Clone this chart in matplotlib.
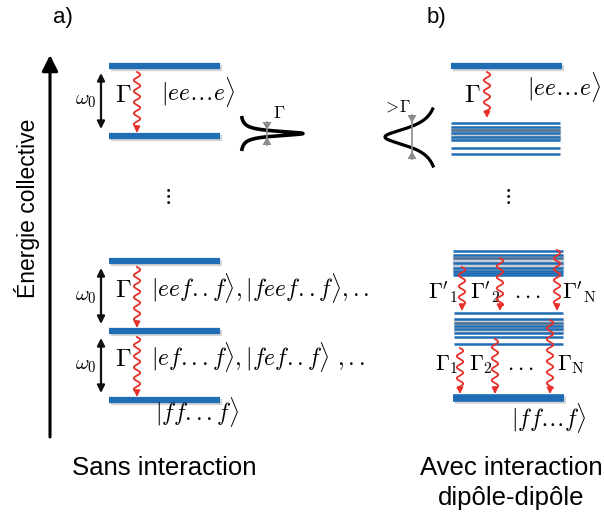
import numpy as np
import matplotlib
matplotlib.use("Agg")
import matplotlib.pyplot as plt

plt.rcParams['mathtext.fontset'] = 'cm'
plt.rcParams['font.family'] = ['Liberation Sans', 'DejaVu Sans']

BLUE = '#1f6db4'
RED = '#e8302a'
GRAY = '#8c8c8c'

# panel a: level heights (pixel rows), transitions and labels
a_levels = [66, 136, 261, 331, 400]
a_x = (109, 220)
a_arrows = [(66, 136), (261, 331), (331, 400)]
a_kets = [r'$|ee\ldots e\rangle$',
          r'$|eef..f\rangle,|feef..f\rangle,..$',
          r'$|ef...f\rangle,|fef..f\rangle\ ,..$']
a_ket_pos = [(161, 92), (151, 288), (151, 357)]
a_ground = r'$|ff...f\rangle$'

# panel b: single levels and bands
b_levels = [66, 398]
b_x = (451, 562)
band1 = [123, 127, 130, 133, 137, 140, 148, 154]
band2 = [251, 255, 258, 263, 268, 271, 273, 275]
band3 = [313, 319, 323, 326, 329, 333, 337, 344]
b_up = [(462, 267, 311), (500, 258, 311), (557, 250, 311)]
b_low = [(460, 348, 394), (495, 339, 394), (550, 320, 394)]
b_up_labels = [r"$\Gamma'_1$", r"$\Gamma'_2$", r'$...$', r"$\Gamma'_{\rm N}$"]
b_up_lx = [443, 485, 527, 579]
b_low_labels = [r'$\Gamma_1$', r'$\Gamma_2$', r'$...$', r'$\Gamma_{\rm N}$']
b_low_lx = [447, 481, 520, 571]

fig = plt.figure(figsize=(6.04, 5.21), dpi=100)
ax = fig.add_axes([0, 0, 1, 1])
ax.set_xlim(0, 604)
ax.set_ylim(521, 0)
ax.axis('off')


def level(x0, x1, y, lw=4.5, color=BLUE):
    ax.plot([x0 + 2, x1 + 2], [y + 2, y + 2], color='#d4d4d4', lw=lw, solid_capstyle='butt', zorder=1)
    ax.plot([x0, x1], [y, y], color=color, lw=lw, solid_capstyle='butt', zorder=2)


def wavy(x0, y0, y1, amp=3.2, wl=11.0):
    yy = np.linspace(y0, y1 - 6, 200)
    xx = x0 + amp * np.sin(2 * np.pi * (yy - y0) / wl)
    ax.plot(xx, yy, color=RED, lw=1.3, zorder=4)
    ax.annotate('', xy=(x0, y1), xytext=(x0, y1 - 7),
                arrowprops=dict(arrowstyle='-|>', color=RED, lw=1.2,
                                mutation_scale=9, shrinkA=0, shrinkB=0), zorder=4)


def double_arrow(x, y0, y1):
    ax.annotate('', xy=(x, y0), xytext=(x, y1),
                arrowprops=dict(arrowstyle='<|-|>', color='#111111', lw=1.6,
                                mutation_scale=11, shrinkA=0, shrinkB=0))


def band(x0, x1, ys):
    ax.fill_between([x0, x1], ys[1], ys[5], color='#c9cdd3', zorder=1)
    for i, y in enumerate(ys):
        c = '#456f99' if i == 2 else BLUE
        ax.plot([x0, x1], [y, y], color=c, lw=1.8, solid_capstyle='butt', zorder=2)


def bowtie(x, ytop, ybot, h=8, w=4.5):
    ax.plot([x, x], [ytop, ybot], color=GRAY, lw=1.2, zorder=5)
    ax.fill([x - w, x + w, x], [ytop, ytop, ytop + h], color=GRAY, zorder=5, lw=0)
    ax.fill([x - w, x + w, x], [ybot, ybot, ybot - h], color=GRAY, zorder=5, lw=0)


# energy axis
ax.annotate('', xy=(50, 55), xytext=(50, 437),
            arrowprops=dict(arrowstyle='-|>', color='black', lw=2.2,
                            mutation_scale=24, shrinkA=0, shrinkB=0))
ax.text(27, 208, 'Énergie collective', rotation=90, ha='center', va='center', fontsize=16.5)

ax.text(63, 18, 'a)', ha='center', va='center', fontsize=16)
ax.text(436, 18, 'b)', ha='center', va='center', fontsize=16)

# panel a
for y in a_levels:
    level(a_x[0], a_x[1], y)
for (y0, y1) in a_arrows:
    double_arrow(101, y0 + 7, y1 - 7)
    ax.text(97, (y0 + y1) / 2, r'$\omega_0$', ha='right', va='center', fontsize=15)
    ax.text(123, (y0 + y1) / 2 - 6, r'$\Gamma$', ha='center', va='center', fontsize=18)
    wavy(137, y0 + 6, y1 - 3)
for s, (x, y) in zip(a_kets, a_ket_pos):
    ax.text(x, y, s, ha='left', va='center', fontsize=17)
ax.text(155, 412, a_ground, ha='left', va='center', fontsize=17)
ax.text(167, 196, r'$\vdots$', ha='center', va='center', fontsize=16)

# narrow line shape
yy = np.linspace(116, 151, 300)
g = 2.8
xx = 240 + 63 * g ** 2 / ((yy - 133.5) ** 2 + g ** 2)
ax.plot(xx, yy, color='black', lw=2.6, zorder=3, solid_capstyle='butt')
bowtie(267, 122, 145)
ax.text(279, 114, r'$\Gamma$', ha='center', va='center', fontsize=13)

ax.text(164, 468, 'Sans interaction', ha='center', va='center', fontsize=18.5)

# panel b
level(b_x[0], b_x[1], b_levels[0])
level(b_x[0] + 2, b_x[1] + 2, b_levels[1], lw=5.5)
band(b_x[0], b_x[1] - 2, band1)
band(b_x[0] + 2, b_x[1] + 1, band2)
band(b_x[0] + 3, b_x[1] + 1, band3)

wavy(487, 72, 118)
ax.text(472, 95, r'$\Gamma$', ha='center', va='center', fontsize=18)
ax.text(527, 87, r'$|ee\ldots e\rangle$', ha='left', va='center', fontsize=17)

yy = np.linspace(109, 166, 300)
g = 11
xx = 440 - 55 * g ** 2 / ((yy - 137) ** 2 + g ** 2)
ax.plot(xx, yy, color='black', lw=2.3, zorder=3)
bowtie(412, 115, 159)
ax.text(397, 107, r'$>\!\Gamma$', ha='center', va='center', fontsize=12)

ax.text(507, 196, r'$\vdots$', ha='center', va='center', fontsize=16)

for (x, y0, y1) in b_up:
    wavy(x, y0, y1)
for (x, y0, y1) in b_low:
    wavy(x, y0, y1)
for s, x in zip(b_up_labels, b_up_lx):
    ax.text(x, 292, s, ha='center', va='center', fontsize=16)
for s, x in zip(b_low_labels, b_low_lx):
    ax.text(x, 365, s, ha='center', va='center', fontsize=16)

ax.text(511, 418, r'$|ff\ldots f\rangle$', ha='left', va='center', fontsize=17)
ax.text(511, 468, 'Avec interaction', ha='center', va='center', fontsize=18.5)
ax.text(511, 498, 'dipôle-dipôle', ha='center', va='center', fontsize=18.5)

fig.savefig('out.png', dpi=100)
